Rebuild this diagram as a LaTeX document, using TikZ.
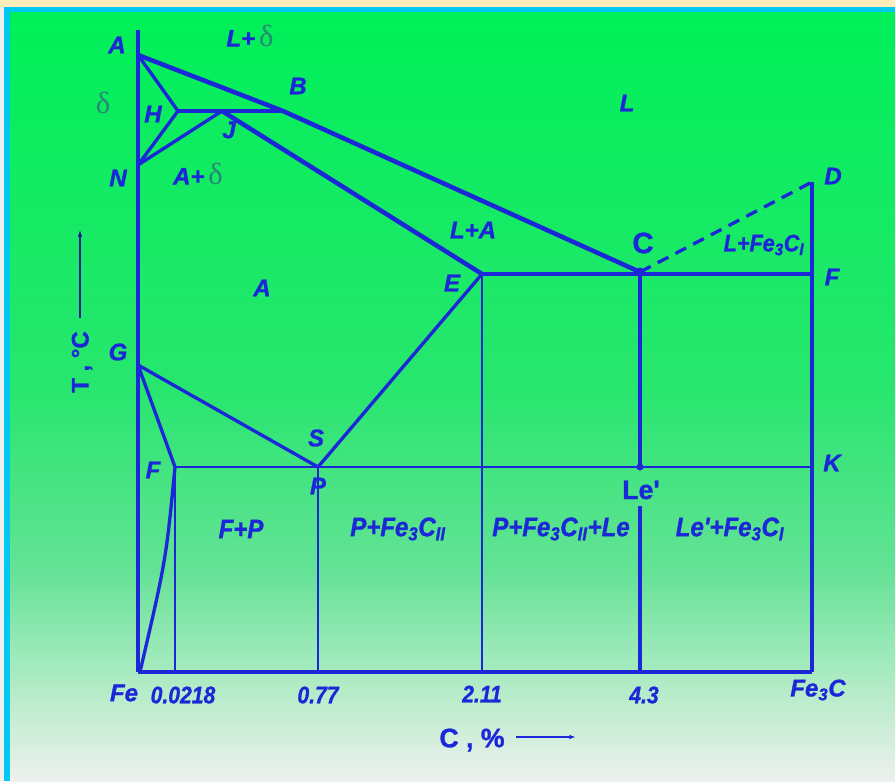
\documentclass[tikz,border=0pt]{standalone}
\usepackage{fontspec}
\setmainfont{Liberation Sans}
\newfontfamily\heavyfont[UprightFont={* Bold Italic},FakeBold=1.2]{Liberation Sans}
\newfontfamily\heavyup[UprightFont={* Bold},FakeBold=1.2]{Liberation Sans}
\newfontfamily\condfont[UprightFont={* Bold Italic},FakeBold=1.0,FakeStretch=0.88]{Liberation Sans}
\newfontfamily\regfont[UprightFont={* Bold Italic},FakeBold=1.2,FakeStretch=0.9]{Liberation Sans}
\newfontfamily\grkfont{Liberation Serif}
\usetikzlibrary{arrows.meta}
\definecolor{lineblue}{RGB}{28,40,215}
\definecolor{deltacol}{RGB}{40,135,120}
\definecolor{gA}{RGB}{0,240,88}
\definecolor{gB}{RGB}{40,230,110}
\definecolor{gC}{RGB}{100,226,150}
\definecolor{gD}{RGB}{180,236,200}
\definecolor{gE}{RGB}{238,240,238}
\definecolor{framecyan}{RGB}{0,200,240}
\definecolor{topstrip}{RGB}{255,236,185}
\newcommand{\dlta}{{\grkfont\fontsize{23}{23}\selectfont\color{deltacol}δ}}
\tikzset{
  pt/.style={font=\heavyfont\fontsize{18}{18}\selectfont, text=lineblue, inner sep=1pt},
  region/.style={font=\regfont\fontsize{20}{20}\selectfont, text=lineblue, inner sep=1pt},
  numlab/.style={font=\condfont\fontsize{18}{18}\selectfont, text=lineblue, inner sep=1pt},
  uplab/.style={font=\heavyup\fontsize{20}{20}\selectfont, text=lineblue, inner sep=1pt},
  dlt/.style={font=\grkfont\fontsize{23}{23}\selectfont, text=deltacol, inner sep=1pt},
  thick line/.style={draw=lineblue, line width=3.4pt, line join=round},
  mid line/.style={draw=lineblue, line width=2.5pt, line join=round},
  thin line/.style={draw=lineblue, line width=1.1pt}
}
\begin{document}
\begin{tikzpicture}[x=0.75pt, y=-0.75pt]
\useasboundingbox (0,0) rectangle (895,781);
% background and frame
\fill[gE] (0,0) rectangle (895,781);
\fill[topstrip] (0,0) rectangle (895,7);
\fill[framecyan] (4,7) rectangle (895,781);
\shade[top color=gA, bottom color=gB] (10,13) rectangle (895,390);
\shade[top color=gB, bottom color=gC] (10,389.5) rectangle (895,570);
\shade[top color=gC, bottom color=gD] (10,569.5) rectangle (895,690);
\shade[top color=gD, bottom color=gE] (10,689.5) rectangle (895,781);

% points of the diagram
\coordinate (top) at (138,30);
\coordinate (A) at (138,55);
\coordinate (H) at (178,111);
\coordinate (J) at (222,111);
\coordinate (B) at (283,111);
\coordinate (N) at (138,165);
\coordinate (C) at (640,272);
\coordinate (E) at (482,274);
\coordinate (Ff) at (812,274);
\coordinate (D) at (812,182);
\coordinate (G) at (138,365);
\coordinate (S) at (318,467);
\coordinate (F) at (175,467);
\coordinate (K) at (812,467);
\coordinate (Le) at (640,467);
\coordinate (Le1) at (640,506);
\coordinate (O) at (138,672);
\coordinate (Fe3C) at (812,672);
\coordinate (F0) at (140,672);
\coordinate (P0) at (175,672);
\coordinate (S0) at (318,672);
\coordinate (E0) at (482,672);
\coordinate (C0) at (640,672);

% thin verticals
\draw[thin line] (F) -- (P0);
\draw[thin line] (S) -- (S0);
\draw[thin line] (E) -- (E0);
% lines
\draw[mid line] (top) -- (O);
\draw[thick line] (O) -- (Fe3C);
\draw[mid line] (Fe3C) -- (D);
\draw[thick line] (A) -- (B) -- (C);
\draw[mid line] (A) -- (H) -- (N) -- (J);
\draw[thick line] (H) -- (B);
\draw[thick line] (J) -- (E);
\draw[thick line] (E) -- (Ff);
\draw[thick line] (C) -- (Le);
\draw[thick line] (Le1) -- (C0);
\draw[mid line, dash pattern=on 9pt off 6pt] (C) -- (D);
\draw[mid line] (G) -- (S) -- (E);
\draw[mid line] (G) -- (F);
\draw[mid line] (F) .. controls (166,560) .. (F0);
\draw[draw=lineblue, line width=1.8pt] (F) -- (K);
\fill[lineblue] (C) circle (4.5);
\fill[lineblue] (Le) circle (3.5);

% point labels
\node[pt] (lA) at (117,45) {A};
\node[pt] (lB) at (298,86) {B};
\node[pt] (lH) at (153,114) {H};
\node[pt] (lJ) at (229,130) {J};
\node[pt] (lN) at (118,178) {N};
\node[pt] (lD) at (833,176) {D};
\node[pt] (lE) at (452,283) {E};
\node[pt] (lFf) at (832,277) {F};
\node[pt] (lG) at (118,352) {G};
\node[pt] (lS) at (316,438) {S};
\node[pt] (lF) at (153,470) {F};
\node[pt] (lP) at (318,486) {P};
\node[pt] (lK) at (832,463) {K};
\node[uplab, font=\heavyup\fontsize{22}{22}\selectfont] (lC) at (643,243) {C};
\node[uplab] (lLe) at (641,490) {Le'};

% regions
\node[dlt] (dA) at (103,103) {δ};
\node[pt] (rLd) at (250,36) {L+\,\dlta};
\node[pt] (rAd) at (198,174) {A+\,\dlta};
\node[pt] (rL) at (627,103) {L};
\node[pt] (rLA) at (473,230) {L+A};
\node[region, font=\regfont\fontsize{18}{18}\selectfont] (rLFe) at (764,245) {L+Fe\textsubscript{3}C\textsubscript{I}};
\node[pt] (rA) at (262,288) {A};
\node[region] (rFP) at (241,529) {F+P};
\node[region] (rPFe) at (398,529) {P+Fe\textsubscript{3}C\textsubscript{II}};
\node[region] (rPFeLe) at (561,529) {P+Fe\textsubscript{3}C\textsubscript{II}+Le};
\node[region] (rLeFe) at (730,529) {Le'+Fe\textsubscript{3}C\textsubscript{I}};

% axis labels
\node[pt] (xFe) at (124,693) {Fe};
\node[numlab] (x1) at (183,695) {0.0218};
\node[numlab] (x2) at (318,695) {0.77};
\node[numlab] (x3) at (482,694) {2.11};
\node[numlab] (x4) at (644,695) {4.3};
\node[pt] (xFe3C) at (818,690) {Fe\textsubscript{3}C};
\node[uplab] (xlab) at (472,740) {C , \%};
\coordinate (xa) at (516,737);
\coordinate (xb) at (576,737);
\draw[lineblue, line width=1.2pt, -{Latex[length=5pt,width=3.5pt]}] (xa) -- (xb);
\node[uplab, font=\heavyup\fontsize{18}{18}\selectfont, rotate=90] (ylab) at (82,362) {T , °C};
\coordinate (ya) at (80,318);
\coordinate (yb) at (80,230);
\draw[lineblue!70!black, line width=0.9pt, -{Latex[length=5pt,width=3.5pt]}] (ya) -- (yb);
\end{tikzpicture}
\end{document}
